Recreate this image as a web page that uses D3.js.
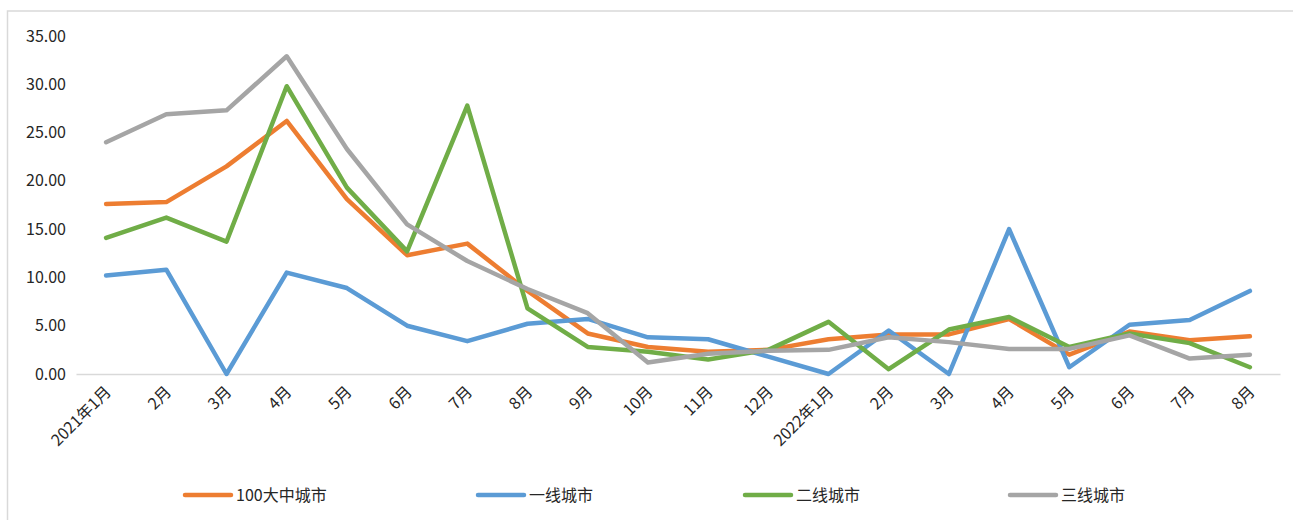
<!DOCTYPE html>
<html>
<head>
<meta charset="utf-8">
<script src="https://cdn.jsdelivr.net/npm/d3@7"></script>
<style>
  html, body { margin: 0; padding: 0; background: #fff; }
  svg { display: block; }
  text { font-family: "Noto Sans CJK SC", "Noto Sans", sans-serif; fill: #262626; }
</style>
</head>
<body>
<svg id="chart" width="1293" height="520"></svg>
<script>
// Month labels along the x axis
const categories = ["2021年1月", "2月", "3月", "4月", "5月", "6月", "7月", "8月", "9月", "10月", "11月", "12月",
                    "2022年1月", "2月", "3月", "4月", "5月", "6月", "7月", "8月"];

// Series values per month
const cities100 = [17.6, 17.8, 21.5, 26.2, 18.1, 12.3, 13.5, 8.6, 4.2, 2.8, 2.3, 2.5, 3.6, 4.1, 4.1, 5.7, 2.0, 4.4, 3.5, 3.9];
const tier1     = [10.2, 10.8, 0.0, 10.5, 8.9, 5.0, 3.4, 5.2, 5.7, 3.8, 3.6, 1.8, 0.0, 4.5, 0.0, 15.0, 0.7, 5.1, 5.6, 8.6];
const tier2     = [14.1, 16.2, 13.7, 29.8, 19.3, 12.7, 27.8, 6.8, 2.8, 2.3, 1.5, 2.5, 5.4, 0.5, 4.6, 5.9, 2.8, 4.2, 3.2, 0.7];
const tier3     = [24.0, 26.9, 27.3, 32.9, 23.3, 15.5, 11.7, 8.8, 6.3, 1.2, 2.1, 2.4, 2.5, 3.8, 3.3, 2.6, 2.6, 4.0, 1.6, 2.0];

const seriesNames  = ["100大中城市", "一线城市", "二线城市", "三线城市"];
const seriesColors = ["#ED7D31", "#5B9BD5", "#70AD47", "#A5A5A5"];
const yTicks = [0, 5, 10, 15, 20, 25, 30, 35];

const series = [cities100, tier1, tier2, tier3].map((values, i) => ({
  name: seriesNames[i], color: seriesColors[i], values
}));

const svg = d3.select("#chart");

// Outer chart frame
svg.append("rect")
  .attr("x", 7.5).attr("y", 11)
  .attr("width", 1310).attr("height", 540)
  .attr("fill", "none")
  .attr("stroke", "#d9d9d9")
  .attr("stroke-width", 1.5);

const x = d3.scaleBand().domain(d3.range(categories.length)).range([76, 1280]);
const y = d3.scaleLinear().domain([0, 35]).range([374, 36]);
const cx = i => x(i) + x.bandwidth() / 2;

// Y axis labels (no axis line)
const yAxis = d3.axisLeft(y).tickValues(yTicks).tickFormat(d3.format(".2f")).tickSize(0).tickPadding(0);
const yg = svg.append("g").attr("transform", "translate(66,0)").call(yAxis);
yg.select(".domain").remove();
yg.selectAll("text")
  .attr("font-size", 16)
  .attr("font-family", "'Noto Sans CJK SC', sans-serif")
  .attr("fill", "#262626");

// X axis baseline
const xAxis = d3.axisBottom(x).tickSize(0).tickFormat(i => categories[i]);
const xg = svg.append("g").attr("transform", `translate(0,${y(0)})`).call(xAxis);
xg.select(".domain").attr("stroke", "#d9d9d9").attr("stroke-width", 1.5);
xg.selectAll(".tick text")
  .attr("font-size", 16)
  .attr("font-family", "'Noto Sans CJK SC', sans-serif")
  .attr("fill", "#262626")
  .attr("text-anchor", "end")
  .attr("dy", "0.35em")
  .attr("y", 0)
  .attr("x", 0)
  .attr("transform", "translate(2,15) rotate(-45)");

// Lines
const line = d3.line()
  .x((d, i) => cx(i))
  .y(d => y(d));

svg.append("g").selectAll("path")
  .data(series)
  .join("path")
  .attr("d", d => line(d.values))
  .attr("fill", "none")
  .attr("stroke", d => d.color)
  .attr("stroke-width", 4.5)
  .attr("stroke-linejoin", "round")
  .attr("stroke-linecap", "round");

// Legend
const legendX = [185, 478, 745, 1010];
const legend = svg.append("g").selectAll("g")
  .data(series)
  .join("g")
  .attr("transform", (d, i) => `translate(${legendX[i]},495)`);
legend.append("line")
  .attr("x1", 0).attr("x2", 46)
  .attr("stroke", d => d.color)
  .attr("stroke-width", 4.5)
  .attr("stroke-linecap", "round");
legend.append("text")
  .attr("x", 51)
  .attr("dy", "0.35em")
  .attr("font-size", 16)
  .text(d => d.name);
</script>
</body>
</html>
